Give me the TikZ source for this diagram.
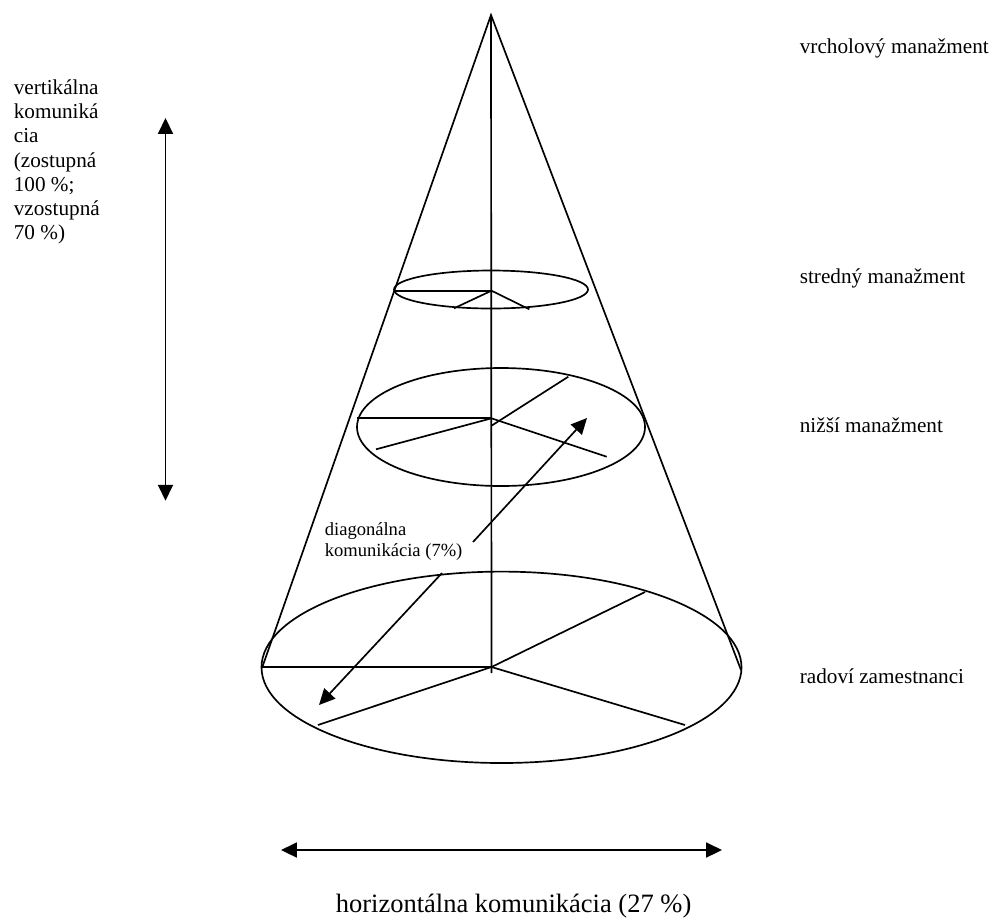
\documentclass[tikz,border=0pt]{standalone}
\usepackage{fontspec}
\setmainfont{Liberation Serif}
\usetikzlibrary{arrows.meta}
\begin{document}
\begin{tikzpicture}[x=0.566pt, y=-0.566pt,
  line width=0.95pt, line cap=butt,
  tip/.style={-{Triangle[length=9pt,width=8.5pt]}},
  twotip/.style={{Triangle[length=9pt,width=8.5pt]}-{Triangle[length=9pt,width=8.5pt]}},
  lvl/.style={anchor=base west, inner sep=0pt, font=\fontsize{12}{13.7}\selectfont},
  side/.style={anchor=north west, inner sep=0pt, align=left, font=\fontsize{12}{13.7}\selectfont},
  diag/.style={anchor=north west, inner sep=0pt, align=left, font=\fontsize{10.5}{12}\selectfont},
  bottom/.style={anchor=base west, inner sep=0pt, font=\fontsize{15}{17}\selectfont}]
\useasboundingbox (0,0) rectangle (991,917);

% cone outline and axis
\coordinate (apex) at (491,15);
\coordinate (baseL) at (262,668);
\coordinate (baseR) at (741,670);
\coordinate (axisEnd) at (491.5,673);
\draw (baseL) -- (apex) -- (baseR);
\draw (apex) -- (axisEnd);

% middle management disc
\coordinate (hubA) at (491.5,290.7);
\coordinate (a1) at (394,290.7);
\coordinate (a2) at (454,308.3);
\coordinate (a3) at (529.3,309.3);
\draw (491,289.5) ellipse [x radius=97, y radius=19];
\draw (a1) -- (hubA);
\draw (a2) -- (hubA) -- (a3);

% lower management disc
\coordinate (hubB) at (491.5,418.3);
\coordinate (b1) at (357,418.3);
\coordinate (b2) at (376,449.3);
\coordinate (b3) at (606.7,456.7);
\coordinate (b4s) at (491.5,425.7);
\coordinate (b4) at (568.3,376.7);
\draw (501,427) ellipse [x radius=144, y radius=59];
\draw (b1) -- (hubB);
\draw (b2) -- (hubB) -- (b3);
\draw (b4s) -- (b4);

% base disc: rank-and-file employees
\coordinate (hubC) at (491.5,667);
\coordinate (c1) at (262,667);
\coordinate (c2) at (318,725);
\coordinate (c3) at (685,725);
\coordinate (c4) at (645,592);
\draw (501.5,667.3) ellipse [x radius=240, y radius=95.7];
\draw (c1) -- (hubC);
\draw (c2) -- (hubC) -- (c3);
\draw (hubC) -- (c4);

% diagonal communication arrows
\coordinate (dUpS) at (473,542);
\coordinate (dUpE) at (587,418);
\coordinate (dDnS) at (442,573);
\coordinate (dDnE) at (319,705);
\draw[tip] (dUpS) -- (dUpE);
\draw[tip] (dDnS) -- (dDnE);

% vertical and horizontal communication arrows
\coordinate (vTop) at (165.5,118);
\coordinate (vBot) at (165.5,500.7);
\draw[twotip] (vTop) -- (vBot);
\coordinate (hL) at (281,850);
\coordinate (hR) at (722,850);
\draw[twotip] (hL) -- (hR);

% labels
\node[side] (vert) at (13,79) {vertikálna\\komuniká\\cia\\(zostupná\\100 \%;\\vzostupná\\70 \%)};
\node[lvl] (top) at (799,53) {vrcholový manažment};
\node[lvl] (mid) at (799,283) {stredný manažment};
\node[lvl] (low) at (799,432) {nižší manažment};
\node[lvl] (staff) at (799,683) {radoví zamestnanci};
\node[diag] (diaglbl) at (324,522) {diagonálna\\komunikácia (7\%)};
\node[bottom] (horiz) at (335,912) {horizontálna komunikácia (27 \%)};
\end{tikzpicture}
\end{document}
